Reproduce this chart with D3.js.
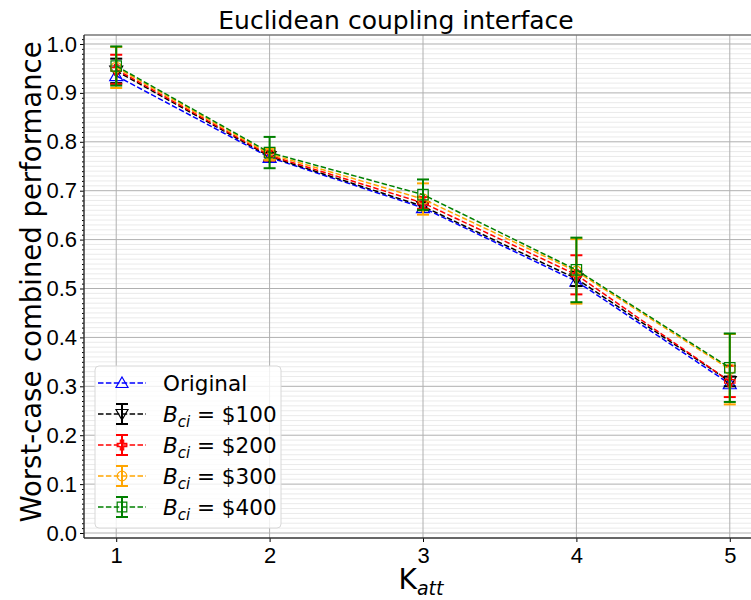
<!DOCTYPE html>
<html><head><meta charset="utf-8">
<script src="https://cdn.jsdelivr.net/npm/d3@7"></script>
<style>body{margin:0;background:#fff}svg{display:block;font-family:"DejaVu Sans",sans-serif}</style>
</head><body><svg id="c" width="751" height="600"></svg>
<script>
const xValues = [1, 2, 3, 4, 5];
const xTicks = [1, 2, 3, 4, 5];
const yTicks = [0.0, 0.1, 0.2, 0.3, 0.4, 0.5, 0.6, 0.7, 0.8, 0.9, 1.0];
const seriesNames = ["Original", "B100", "B200", "B300", "B400"];
const seriesLabels = ["Original", "$100", "$200", "$300", "$400"];
const seriesColors = ["blue", "black", "red", "orange", "green"];
const seriesMarkers = ["triUp", "triDown", "plus", "circle", "square"];
const originalVals = [0.935, 0.768, 0.665, 0.515, 0.305];
const b100Vals = [0.945, 0.770, 0.668, 0.520, 0.310];
const b100Err = [0.025, 0.008, 0.008, 0.015, 0.010];
const b200Vals = [0.948, 0.772, 0.675, 0.528, 0.310];
const b200Err = [0.030, 0.010, 0.012, 0.040, 0.032];
const b300Vals = [0.952, 0.775, 0.683, 0.535, 0.335];
const b300Err = [0.042, 0.012, 0.032, 0.066, 0.072];
const b400Vals = [0.955, 0.778, 0.692, 0.538, 0.338];
const b400Err = [0.040, 0.032, 0.031, 0.066, 0.070];

const allVals = [originalVals, b100Vals, b200Vals, b300Vals, b400Vals];
const allErr = [null, b100Err, b200Err, b300Err, b400Err];

const svg = d3.select("#c");
const L = 84, T = 35, B = 538, R = 762;
const x = d3.scaleLinear().domain([0.79, 5.21]).range([L, R]);
const y = d3.scaleLinear().domain([-0.0102, 1.0184]).range([B, T]);

const plot = svg.append("g");
const minor = d3.range(0, 102).map(i => i / 100).filter(v => Math.round(v * 100) % 10 !== 0);
plot.selectAll(".mg").data(minor).enter().append("line")
  .attr("x1", L).attr("x2", 751).attr("y1", d => y(d)).attr("y2", d => y(d))
  .attr("stroke", "#e4e4e4").attr("stroke-width", 0.8);
plot.selectAll(".gy").data(yTicks).enter().append("line")
  .attr("x1", L).attr("x2", 751).attr("y1", d => y(d)).attr("y2", d => y(d))
  .attr("stroke", "#b0b0b0").attr("stroke-width", 1);
plot.selectAll(".gx").data(xTicks).enter().append("line")
  .attr("y1", T).attr("y2", B).attr("x1", d => x(d)).attr("x2", d => x(d))
  .attr("stroke", "#b0b0b0").attr("stroke-width", 1);

const yAxis = d3.axisLeft(y).tickValues(yTicks).tickFormat(d3.format(".1f")).tickSize(4).tickPadding(3);
const ga = svg.append("g").attr("transform", `translate(${L},0)`).call(yAxis);
ga.select(".domain").remove();
ga.selectAll("text").attr("font-size", 22).attr("fill", "#000");
const yMinor = d3.axisLeft(y).tickValues(minor).tickFormat("").tickSize(2);
const gm = svg.append("g").attr("transform", `translate(${L},0)`).call(yMinor);
gm.select(".domain").remove();

const xAxis = d3.axisBottom(x).tickValues(xTicks).tickFormat(d3.format("d")).tickSize(4).tickPadding(5);
const gx = svg.append("g").attr("transform", `translate(0,${B})`).call(xAxis);
gx.select(".domain").remove();
gx.selectAll("text").attr("font-size", 22).attr("fill", "#000");

svg.append("line").attr("x1", L).attr("x2", 751).attr("y1", T).attr("y2", T).attr("stroke", "#777").attr("stroke-width", 1.5);
svg.append("line").attr("x1", L).attr("x2", 751).attr("y1", B).attr("y2", B).attr("stroke", "#333").attr("stroke-width", 1.5);
svg.append("line").attr("x1", L).attr("x2", L).attr("y1", T).attr("y2", B).attr("stroke", "#333").attr("stroke-width", 1.5);

function markerPath(type, s) {
  const h = s / 2;
  if (type === "triUp") return `M0,${-h}L${h},${h*0.75}L${-h},${h*0.75}Z`;
  if (type === "triDown") return `M0,${h}L${h},${-h*0.75}L${-h},${-h*0.75}Z`;
  if (type === "square") return `M${-h*0.8},${-h*0.8}H${h*0.8}V${h*0.8}H${-h*0.8}Z`;
  if (type === "circle") { const r = h*0.8; return `M${r},0A${r},${r} 0 1,1 ${-r},0A${r},${r} 0 1,1 ${r},0Z`; }
  if (type === "plus") { const a = h*0.8, b = h*0.28; return `M${-b},${-a}H${b}V${-b}H${a}V${b}H${b}V${a}H${-b}V${b}H${-a}V${-b}H${-b}Z`; }
}

const line = d3.line().x((d, i) => x(xValues[i])).y(d => y(d));
const data = svg.append("g");
const MS = 13;

seriesNames.forEach((name, si) => {
  const col = seriesColors[si];
  const vals = allVals[si];
  const err = allErr[si];
  const g = data.append("g");
  g.append("path").attr("d", line(vals)).attr("fill", "none").attr("stroke", col)
    .attr("stroke-width", 1.5).attr("stroke-dasharray", "5.5,2.4");
  if (err) {
    vals.forEach((v, i) => {
      const cx = x(xValues[i]);
      g.append("line").attr("x1", cx).attr("x2", cx).attr("y1", y(v - err[i])).attr("y2", y(v + err[i]))
        .attr("stroke", col).attr("stroke-width", 2);
      [v - err[i], v + err[i]].forEach(e => {
        g.append("line").attr("x1", cx - 6).attr("x2", cx + 6).attr("y1", y(e)).attr("y2", y(e))
          .attr("stroke", col).attr("stroke-width", 2);
      });
    });
  }
  vals.forEach((v, i) => {
    g.append("path").attr("d", markerPath(seriesMarkers[si], MS))
      .attr("transform", `translate(${x(xValues[i])},${y(v)})`)
      .attr("fill", "none").attr("stroke", col).attr("stroke-width", 1.2);
  });
});

const lg = svg.append("g").attr("transform", "translate(95,366)");
lg.append("rect").attr("x", 0).attr("y", 0).attr("width", 186).attr("height", 162).attr("rx", 4)
  .attr("fill", "rgba(255,255,255,0.8)").attr("stroke", "#d8d8d8");
seriesNames.forEach((name, si) => {
  const col = seriesColors[si];
  const cy = 17 + si * 31;
  const row = lg.append("g").attr("transform", `translate(0,${cy})`);
  row.append("line").attr("x1", 3).attr("x2", 51).attr("y1", 0).attr("y2", 0)
    .attr("stroke", col).attr("stroke-width", 1.5).attr("stroke-dasharray", "5.5,2.4");
  if (si > 0) {
    row.append("line").attr("x1", 27).attr("x2", 27).attr("y1", -10).attr("y2", 10).attr("stroke", col).attr("stroke-width", 2);
    [-10, 10].forEach(e => row.append("line").attr("x1", 21).attr("x2", 33).attr("y1", e).attr("y2", e).attr("stroke", col).attr("stroke-width", 2));
  }
  row.append("path").attr("d", markerPath(seriesMarkers[si], 12)).attr("transform", "translate(27,0)")
    .attr("fill", "none").attr("stroke", col).attr("stroke-width", 1.2);
  const t = row.append("text").attr("x", 68).attr("y", 8).attr("font-size", 21.5).attr("fill", "#000");
  if (si === 0) t.text(seriesLabels[si]);
  else {
    t.append("tspan").attr("font-style", "italic").text("B");
    t.append("tspan").attr("font-style", "italic").attr("font-size", 15).attr("dy", 5).text("ci");
    t.append("tspan").attr("dy", -5).text(" = " + seriesLabels[si]);
  }
});

svg.append("text").attr("x", 396).attr("y", 29).attr("text-anchor", "middle").attr("font-size", 25).text("Euclidean coupling interface");
svg.append("text").attr("transform", "translate(41,282) rotate(-90)").attr("text-anchor", "middle").attr("font-size", 27.5).text("Worst-case combined performance");
const xl = svg.append("text").attr("x", 421).attr("y", 589).attr("text-anchor", "middle").attr("font-size", 28);
xl.append("tspan").text("K");
xl.append("tspan").attr("font-style", "italic").attr("font-size", 19).attr("dy", 6).text("att");
</script></body></html>
